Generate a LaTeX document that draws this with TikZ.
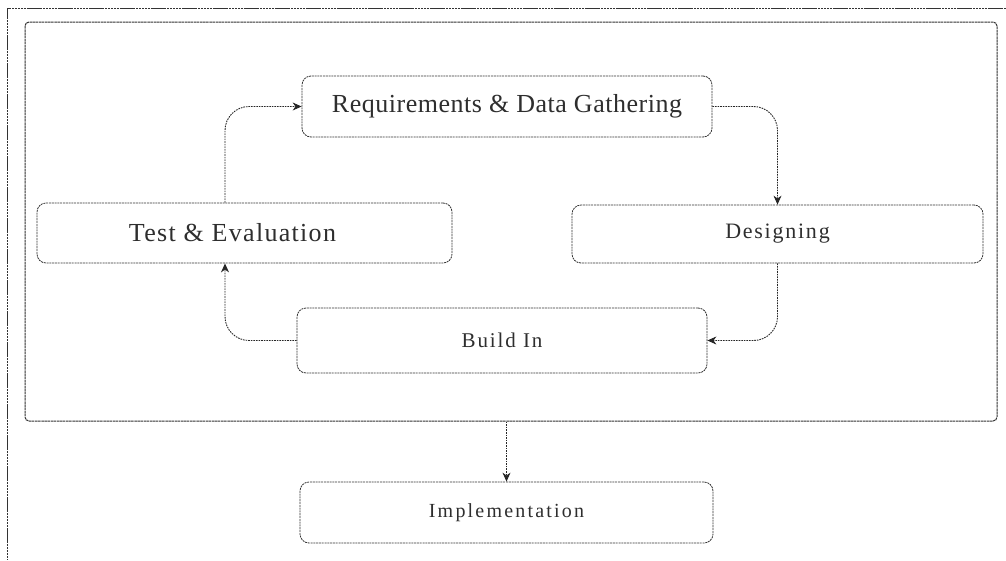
\documentclass[tikz,border=0pt]{standalone}
\usepackage{fontspec}
\setmainfont{Liberation Serif}
\usetikzlibrary{arrows.meta}
% font size with extra tracking
\newcommand{\trackedfont}[2]{\fontsize{#1}{#1}\selectfont\addfontfeature{LetterSpace=#2}}
\begin{document}
\begin{tikzpicture}[x=1pt,y=-1pt,
  stage/.style={draw=black!80, line width=0.8pt, dash pattern=on 2pt off 0.8pt,
    rounded corners=9pt, text=black!82, inner sep=0pt, minimum height=60pt},
  flow/.style={draw=black!85, line width=0.9pt, dash pattern=on 1.6pt off 1pt,
    rounded corners=24pt, -{Stealth[length=9pt,width=8pt]}},
  border/.style={draw=black!80, line width=1pt, dash pattern=on 2.5pt off 0.6pt}
]
\useasboundingbox (0,0) rectangle (1006,560);

% page border (top and left edges)
\draw[border] (1006,8) -- (7,8) -- (7,560);

% cycle enclosure
\node[border, rounded corners=4pt, minimum width=972pt, minimum height=399pt,
  inner sep=0pt] (cycle) at (511,221.5) {};

% stages
\node[stage, minimum width=410pt, minimum height=61pt, font=\trackedfont{26}{2}]
  (req) at (507,106.5) {Requirements \& Data Gathering};
\node[stage, minimum width=411pt, minimum height=58pt, font=\trackedfont{22}{8}]
  (des) at (777.5,234) {Designing};
\node[stage, minimum width=415pt, minimum height=60pt, font=\trackedfont{26}{5}]
  (te) at (244.5,233) {Test \& Evaluation\hspace*{24pt}};
\node[stage, minimum width=410pt, minimum height=65pt, font=\trackedfont{21}{9}]
  (build) at (502,340.5) {Build In};
\node[stage, minimum width=413pt, minimum height=61pt, font=\trackedfont{20}{11}]
  (impl) at (506.5,512.5) {Implementation};

% column of the connectors on the left stage
\coordinate (tx) at (225,0);

% connectors of the cycle
\draw[flow] (te.north -| tx) |- (req.west);
\draw[flow] (req.east) -| (des.north);
\draw[flow] (des.south) |- (build.east);
\draw[flow] (build.west) -| (te.south -| tx);

% exit of the cycle
\draw[flow] (cycle.south -| impl.north) -- (impl.north);
\end{tikzpicture}
\end{document}
